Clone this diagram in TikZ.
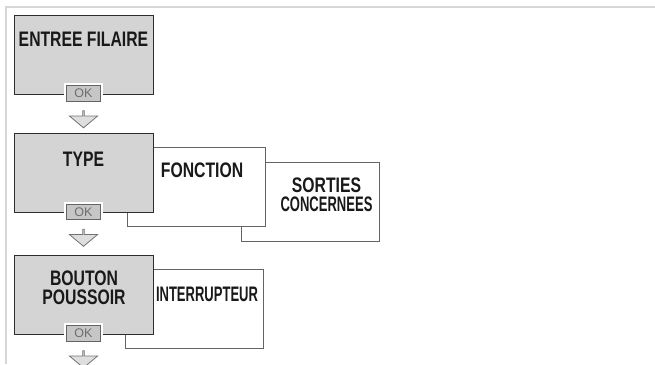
\documentclass[tikz,border=0pt]{standalone}
\usepackage{fontspec}
\setmainfont{Liberation Sans}
\newfontfamily\boxfont[FakeStretch=0.75]{Liberation Sans}
\newfontfamily\narrowfont[FakeStretch=0.62]{Liberation Sans}
\usepackage{tikz}
\usetikzlibrary{shapes.arrows}
\definecolor{boxgray}{RGB}{212, 212, 212}
\definecolor{boxline}{RGB}{45, 45, 45}
\definecolor{sideline}{RGB}{100, 100, 100}
\definecolor{okfill}{RGB}{198, 198, 198}
\definecolor{okline}{RGB}{100, 100, 100}
\definecolor{oktext}{RGB}{110, 110, 110}
\definecolor{arrowfill}{RGB}{222, 222, 222}
\definecolor{arrowline}{RGB}{115, 115, 115}
\definecolor{framegray}{RGB}{215, 215, 215}

\tikzset{
  menubox/.style = {
    draw           = boxline,
    line width     = 1pt,
    fill           = boxgray,
    minimum width  = 139pt,
    minimum height = 79pt,
    inner sep      = 0pt
  },
  choicebox/.style = {
    draw           = sideline,
    line width     = 0.8pt,
    fill           = white,
    minimum width  = 138pt,
    minimum height = 79pt,
    inner sep      = 0pt
  },
  boxlabel/.style = {
    font       = \boxfont\bfseries\fontsize{21}{19}\selectfont,
    text       = black!90,
    align      = center,
    inner sep  = 0pt
  },
  okbutton/.style = {
    draw           = okline,
    fill           = okfill,
    line width     = 0.7pt,
    minimum width  = 34pt,
    minimum height = 15.5pt,
    inner sep      = 0pt,
    text           = oktext,
    font           = \fontsize{12.5}{12.5}\selectfont,
    preaction      = {draw = white, line width = 5pt}
  },
  nextarrow/.style = {
    single arrow,
    shape border rotate      = 270,
    draw                     = arrowline,
    fill                     = arrowfill,
    line width               = 0.8pt,
    minimum width            = 28pt,
    minimum height           = 17pt,
    single arrow head extend = 7pt,
    single arrow tip angle   = 100,
    inner sep                = 0pt
  }
}

\begin{document}
\begin{tikzpicture}[x=1pt, y=-1pt]
  \useasboundingbox (0,0) rectangle (655,364);
  % page frame
  \draw[framegray, line width=2pt] (655,7) -- (6,7) -- (6,364);

  % wired input
  \node[menubox] (entree) at (83.5,54.5) {};
  \node[boxlabel] (entree-txt) at (83.5,39.5) {ENTREE FILAIRE};
  \node[okbutton] (entree-ok) at ([yshift=1pt]entree.south) {OK};
  \node[nextarrow] (entree-arrow) at ([yshift=-24.5pt]entree.south) {};

  % type, with its choices behind
  \node[choicebox] (sorties) at (310,201.5) {};
  \node[boxlabel] (sorties-txt) at (326.5,194.5)
    {SORTIES\\{\narrowfont\bfseries CONCERNEES}};
  \node[choicebox] (fonction) at (196.5,186.5) {};
  \node[boxlabel] (fonction-txt) at (202,170) {FONCTION};
  \node[menubox] (type) at (83.5,173) {};
  \node[boxlabel] (type-txt) at (83.5,159) {TYPE};
  \node[okbutton] (type-ok) at ([yshift=1pt]type.south) {OK};
  \node[nextarrow] (type-arrow) at ([yshift=-24.5pt]type.south) {};

  % push button or switch
  \node[choicebox] (interrupteur) at (194,308.5) {};
  \node[boxlabel, font=\narrowfont\bfseries\fontsize{21}{19}\selectfont]
    (interrupteur-txt) at (207,294) {INTERRUPTEUR};
  \node[menubox] (bouton) at (83.5,294.5) {};
  \node[boxlabel] (bouton-txt) at (84,288) {BOUTON\\POUSSOIR};
  \node[okbutton] (bouton-ok) at ([yshift=1pt]bouton.south) {OK};
  \node[nextarrow] (bouton-arrow) at ([yshift=-24.5pt]bouton.south) {};
\end{tikzpicture}
\end{document}
